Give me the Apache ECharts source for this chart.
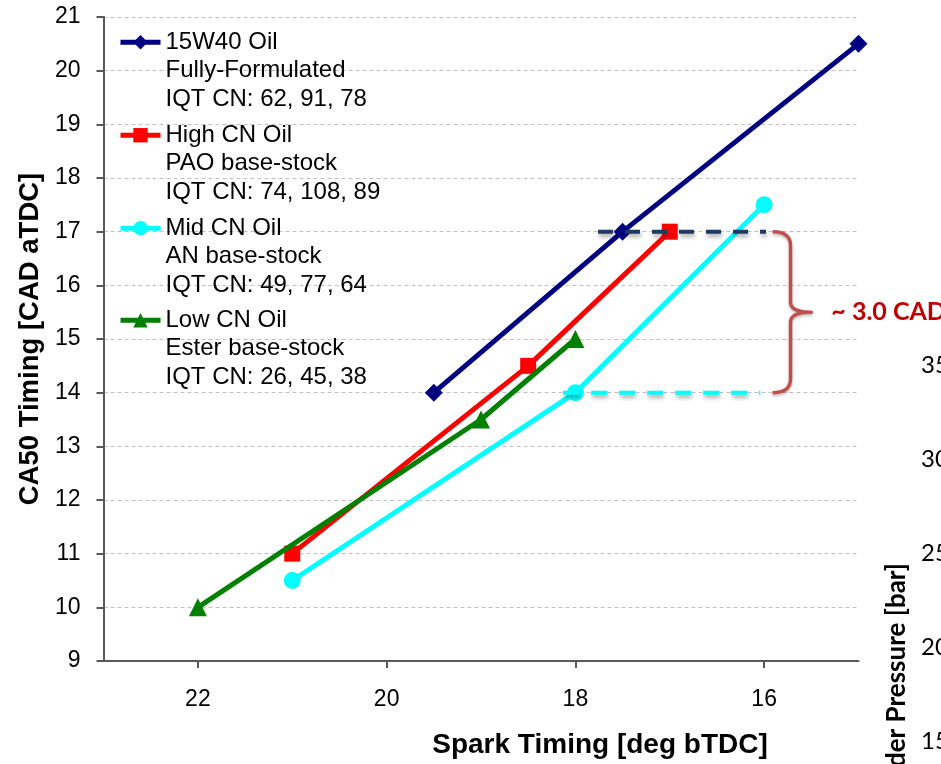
<!DOCTYPE html>
<html><head><meta charset="utf-8">
<script src="https://cdn.jsdelivr.net/npm/echarts@6/dist/echarts.min.js"></script>
<style>html,body{margin:0;padding:0;background:#fff}#c{width:941px;height:764px}</style>
</head><body><div id="c"></div>
<script>
// ---- data ----
const xTickValues = [22, 20, 18, 16];
const seriesNames = ['15W40 Oil', 'High CN Oil', 'Mid CN Oil', 'Low CN Oil'];
const legendSub = [
  ['Fully-Formulated', 'IQT CN: 62, 91, 78'],
  ['PAO base-stock', 'IQT CN: 74, 108, 89'],
  ['AN base-stock', 'IQT CN: 49, 77, 64'],
  ['Ester base-stock', 'IQT CN: 26, 45, 38']
];
const spark15W40 = [19.5, 17.5, 15];
const ca50_15W40 = [14, 17, 20.5];
const sparkHigh = [21, 18.5, 17];
const ca50High = [11, 14.5, 17];
const sparkMid = [21, 18, 16];
const ca50Mid = [10.5, 14, 17.5];
const sparkLow = [22, 19, 18];
const ca50Low = [10, 13.5, 15];
// annotation reference lines
const refTopX = [17.76, 15.98];
const refTopY = [17, 17];
const refBotX = [18.13, 16.04];
const refBotY = [14, 14];
const bracketX = [15.91, 15.72, 15.5];
const deltaLabel = '~ 3.0 CAD';
// fragment of the overlapping chart on the right
const pressureTicks = ['35', '30', '25', '20', '15'];
const pressureTitle = 'Cylinder Pressure [bar]';

const zip = (xs, ys) => xs.map((x, i) => [x, ys[i]]);
const colors = ['#000080', '#FF0000', '#00FFFF', '#008000'];
const symbols = ['diamond', 'rect', 'circle', 'triangle'];
const symSizes = [18, 16, 17, 18];
const datasets = [zip(spark15W40, ca50_15W40), zip(sparkHigh, ca50High), zip(sparkMid, ca50Mid), zip(sparkLow, ca50Low)];

const FONT = 'Liberation Sans';
const chart = echarts.init(document.getElementById('c'), null, {renderer: 'canvas'});

const legendTops = [-34, 59, 152, 244];
const legends = seriesNames.map((n, i) => ({
  data: [n], orient: 'vertical', left: 113, top: legendTops[i],
  itemWidth: 40, itemHeight: 18, selectedMode: false,
  lineStyle: {width: 5},
  formatter: name => ['', '', name].concat(legendSub[i]).join('\n'),
  textStyle: {fontFamily: FONT, fontSize: 24, color: '#000', lineHeight: 28.5}
}));

const series = seriesNames.map((n, i) => ({
  name: n, type: 'line', data: datasets[i],
  symbol: symbols[i], symbolSize: symSizes[i], showSymbol: true,
  lineStyle: {color: colors[i], width: 5},
  itemStyle: {color: colors[i]},
  z: 3 + i, animation: false
}));
const shadow = {shadowColor: 'rgba(0,0,0,0.35)', shadowBlur: 4, shadowOffsetX: 1, shadowOffsetY: 3};
series.push({
  name: 'refTop', type: 'line', data: zip(refTopX, refTopY), symbol: 'none',
  lineStyle: Object.assign({color: '#1F3864', width: 4, type: [15, 12]}, shadow), z: 8, animation: false, silent: true
});
series.push({
  name: 'refBot', type: 'line', data: zip(refBotX, refBotY), symbol: 'none',
  lineStyle: Object.assign({color: '#00FFFF', width: 4, type: [16, 12]}, shadow), z: 8, animation: false, silent: true
});

chart.setOption({
  animation: false,
  backgroundColor: '#fff',
  grid: {left: 103.5, right: 82.5, top: 17, bottom: 102, containLabel: false},
  legend: legends,
  xAxis: {
    type: 'value', min: 15, max: 23, inverse: true,
    name: 'Spark Timing [deg bTDC]', nameLocation: 'middle', nameGap: 70,
    nameTextStyle: {fontFamily: FONT, fontSize: 28, fontWeight: 'bold', color: '#000', padding: [0, 0, 0, 238]},
    axisLine: {lineStyle: {color: '#595959', width: 2}},
    axisTick: {show: true, length: 7, customValues: xTickValues, lineStyle: {color: '#595959', width: 2}},
    axisLabel: {customValues: xTickValues, fontFamily: FONT, fontSize: 23, color: '#000', margin: 27},
    splitLine: {show: false}
  },
  yAxis: {
    type: 'value', min: 9, max: 21, interval: 1,
    name: 'CA50 Timing [CAD aTDC]', nameLocation: 'middle', nameGap: 58,
    nameTextStyle: {fontFamily: FONT, fontSize: 27.5, fontWeight: 'bold', color: '#000'},
    axisLine: {show: true, lineStyle: {color: '#595959', width: 2}},
    axisTick: {show: true, length: 7, lineStyle: {color: '#595959', width: 2}},
    axisLabel: {fontFamily: FONT, fontSize: 23, color: '#000', margin: 23},
    splitLine: {show: true, lineStyle: {color: '#BFBFBF', width: 1, type: [4, 3]}}
  },
  series: series
});

// annotations positioned through the chart's own scales
const px = (x, y) => chart.convertToPixel({gridIndex: 0}, [x, y]);
const yTop = px(16, 17)[1], yBot = px(16, 14)[1], yMid = (yTop + yBot) / 2;
const xl = px(bracketX[0], 17)[0], xs = px(bracketX[1], 17)[0], xt = px(bracketX[2], 17)[0];

function quad(p0, c, p1, n) {
  const out = [];
  for (let k = 0; k <= n; k++) {
    const t = k / n, u = 1 - t;
    out.push([u * u * p0[0] + 2 * u * t * c[0] + t * t * p1[0], u * u * p0[1] + 2 * u * t * c[1] + t * t * p1[1]]);
  }
  return out;
}
let pts = [];
pts = pts.concat(quad([xl, yTop], [xs, yTop], [xs, yTop + 14], 10));
pts = pts.concat(quad([xs, yMid - 10], [xs, yMid], [xt, yMid], 10));
pts = pts.concat(quad([xt, yMid], [xs, yMid], [xs, yMid + 10], 10));
pts = pts.concat(quad([xs, yBot - 14], [xs, yBot], [xl, yBot], 10));

const graphics = [
  {type: 'polyline', shape: {points: pts}, style: {fill: null, stroke: '#C0504D', lineWidth: 3.5, lineJoin: 'round', shadowColor: 'rgba(0,0,0,0.25)', shadowBlur: 3, shadowOffsetY: 2}, z: 20},
  {type: 'text', x: xt + 20, y: yMid, style: {text: deltaLabel, fill: '#C00000', font: 'bold 25px Lato', align: 'left', verticalAlign: 'middle'}, z: 20}
];
pressureTicks.forEach((t, i) => {
  graphics.push({type: 'text', x: 921, y: 365 + i * 94, style: {text: t, fill: '#000', font: '24px Lato', align: 'left', verticalAlign: 'middle'}, z: 20});
});
graphics.push({type: 'text', x: 897, y: 563, rotation: Math.PI / 2, style: {text: pressureTitle, fill: '#000', font: 'bold 26px Lato', align: 'right', verticalAlign: 'middle'}, z: 20});
chart.setOption({graphic: graphics});
</script>
</body></html>
